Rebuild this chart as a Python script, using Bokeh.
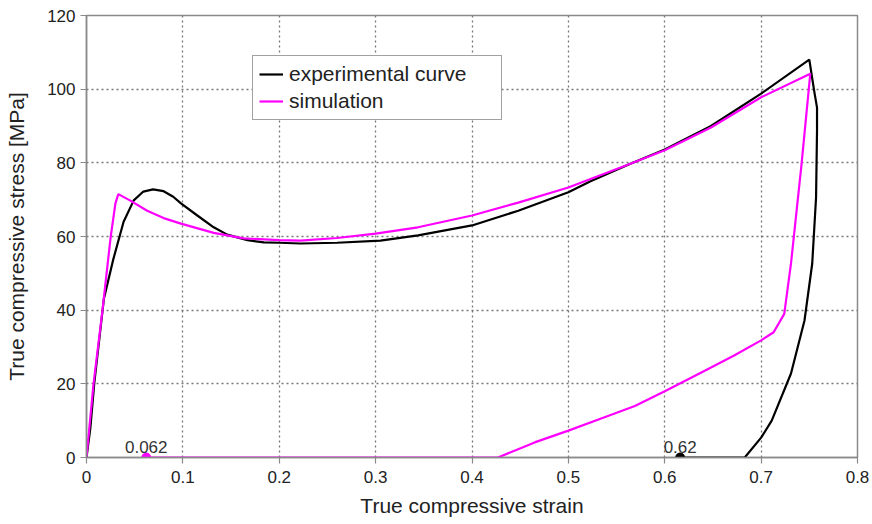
from bokeh.plotting import figure
from bokeh.models import Range1d, FixedTicker, Legend, LegendItem, ColumnDataSource
from bokeh.core.properties import value
from bokeh.embed import file_html
from bokeh.resources import INLINE

# ---- data ----
exp_strain = [0, 0.004, 0.008, 0.018, 0.028, 0.0385, 0.049, 0.059, 0.069, 0.08, 0.09,
              0.098, 0.115, 0.132, 0.146, 0.167, 0.184, 0.2, 0.222, 0.26, 0.305, 0.344,
              0.40, 0.448, 0.50, 0.523, 0.565, 0.6, 0.648, 0.70, 0.750, 0.755, 0.758,
              0.758, 0.757, 0.753, 0.745, 0.731, 0.711, 0.700, 0.683, 0.616]
exp_stress = [0, 8, 20, 43, 54, 64, 69.8, 72.2, 72.8, 72.3, 70.8,
              69, 65.7, 62.5, 60.5, 59, 58.4, 58.3, 58.1, 58.3, 58.9, 60.3,
              63, 67, 72, 75, 79.8, 83.6, 90, 98.8, 108, 99.6, 95,
              88.8, 70.6, 52.6, 37.2, 22.8, 10, 5.4, 0, 0]

sim_strain = [0, 0.0073, 0.0166, 0.025, 0.030, 0.033, 0.045, 0.063, 0.08, 0.098, 0.132,
              0.163, 0.2, 0.222, 0.26, 0.30, 0.344, 0.40, 0.448, 0.50, 0.565, 0.60,
              0.648, 0.70, 0.751, 0.742, 0.731, 0.724, 0.713, 0.700, 0.672, 0.638,
              0.60, 0.569, 0.534, 0.50, 0.465, 0.427, 0.062]
sim_stress = [0, 20, 40, 59.7, 69, 71.5, 69.8, 67, 65, 63.5, 61,
              59.5, 59, 58.9, 59.6, 60.8, 62.5, 65.7, 69.2, 73.3, 79.8, 83.4,
              89.6, 97.8, 104.2, 79.8, 52.7, 39, 34, 31.8, 27.7, 23.1,
              18.0, 14.0, 10.6, 7.3, 4.1, 0, 0]

marker_strain = [0.062, 0.616]
marker_stress = [0, 0]
marker_labels = ["0.062", "0.62"]
marker_colors = ["#ff00ff", "#000000"]

x_ticks = [0, 0.1, 0.2, 0.3, 0.4, 0.5, 0.6, 0.7, 0.8]
x_tick_labels = ["0", "0.1", "0.2", "0.3", "0.4", "0.5", "0.6", "0.7", "0.8"]
y_ticks = [0, 20, 40, 60, 80, 100, 120]

series_names = ["experimental curve", "simulation"]
x_title = "True compressive strain"
y_title = "True compressive stress [MPa]"

FONT = "Liberation Sans"
TXT = "#222222"

p = figure(width=872, height=524, output_backend="svg", toolbar_location=None,
           x_range=Range1d(0, 0.8), y_range=Range1d(0, 120),
           min_border_left=86, min_border_right=15, min_border_top=15, min_border_bottom=67)
p.background_fill_color = "white"
p.border_fill_color = "white"
p.outline_line_color = "#8a8a8a"
p.outline_line_width = 1.5

for ax in (p.xaxis[0], p.yaxis[0]):
    ax.axis_line_color = "#8a8a8a"
    ax.axis_line_width = 1.5
    ax.major_tick_line_color = "#8a8a8a"
    ax.major_tick_line_width = 1.2
    ax.major_tick_out = 6
    ax.major_tick_in = 0
    ax.minor_tick_line_color = None
    ax.major_label_text_font = FONT
    ax.major_label_text_font_size = "17px"
    ax.major_label_text_color = TXT
    ax.axis_label_text_font = FONT
    ax.axis_label_text_font_size = "21px"
    ax.axis_label_text_font_style = "normal"
    ax.axis_label_text_color = TXT

p.xaxis.ticker = FixedTicker(ticks=x_ticks)
p.xaxis.major_label_overrides = {t: s for t, s in zip(x_ticks, x_tick_labels)}
p.yaxis.ticker = FixedTicker(ticks=y_ticks)
p.xaxis.axis_label = x_title
p.yaxis.axis_label = y_title
p.xaxis.major_label_standoff = 7
p.yaxis.major_label_standoff = 5
p.xaxis.axis_label_standoff = 8
p.yaxis.axis_label_standoff = 16

for g in (p.xgrid[0], p.ygrid[0]):
    g.grid_line_color = "#777777"
    g.grid_line_dash = "2 3"
    g.grid_line_width = 1.3

r_exp = p.line(exp_strain, exp_stress, line_color="#000000", line_width=2.2)
r_sim = p.line(sim_strain, sim_stress, line_color="#ff00ff", line_width=2.2)

src = ColumnDataSource(dict(x=marker_strain, y=marker_stress, t=marker_labels, c=marker_colors))
p.scatter("x", "y", source=src, size=9, fill_color="c", line_color="c")
p.text("x", "y", text="t", source=src, text_font=value(FONT), text_font_size="17px",
       text_color="#333333", text_align="center", text_baseline="bottom", y_offset=-5)

legend = Legend(items=[LegendItem(label=series_names[0], renderers=[r_exp]),
                       LegendItem(label=series_names[1], renderers=[r_sim])],
                location=(166, 337), padding=6, spacing=3, glyph_width=24, label_standoff=6,
                label_width=206,
                label_text_font=FONT, label_text_font_size="21px", label_text_color=TXT,
                border_line_color="#444444", border_line_width=1.5,
                background_fill_color="white", background_fill_alpha=1.0, margin=0)
p.add_layout(legend, "center")

open("out.html", "w").write(file_html(p, INLINE))
